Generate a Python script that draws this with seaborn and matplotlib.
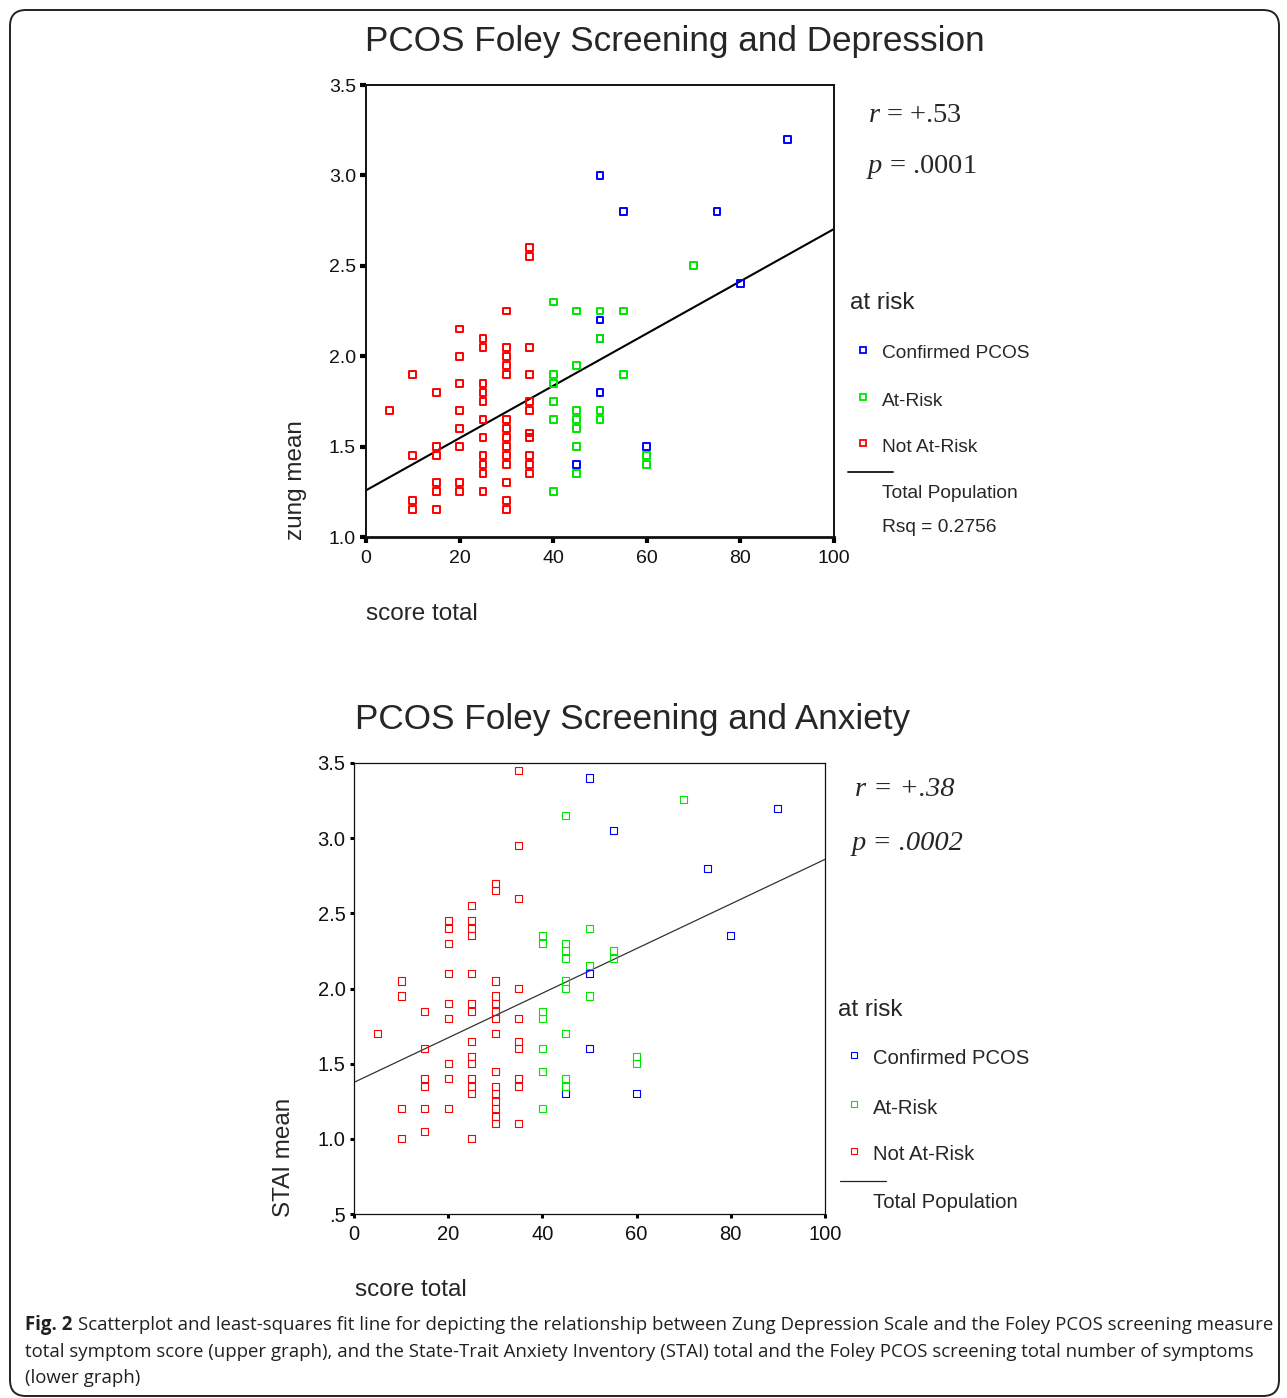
import matplotlib
matplotlib.use("Agg")
import matplotlib.pyplot as plt
import matplotlib.transforms as mtransforms
from matplotlib.lines import Line2D
from matplotlib.patches import FancyBboxPatch
import seaborn as sns
import pandas as pd

# groups shown in both graphs
groups = ["Confirmed PCOS", "At-Risk", "Not At-Risk"]
group_colors = {"Confirmed PCOS": "#0000ff", "At-Risk": "#00e600", "Not At-Risk": "#ff0000"}

# upper graph: score total vs zung mean
dep_pcos_x = [90, 50, 55, 75, 80, 50, 50, 50, 60, 45]
dep_pcos_y = [3.2, 3.0, 2.8, 2.8, 2.4, 2.2, 2.1, 1.8, 1.5, 1.4]
dep_risk_x = [70, 40, 45, 50, 55, 50, 45, 40, 55, 40, 40, 45, 50, 40, 45, 50, 45, 45, 60, 60, 45, 40]
dep_risk_y = [2.5, 2.3, 2.25, 2.25, 2.25, 2.1, 1.95, 1.9, 1.9, 1.85, 1.75, 1.7, 1.7, 1.65, 1.65, 1.65,
              1.6, 1.5, 1.45, 1.4, 1.35, 1.25]
dep_norisk_x = [35, 35, 30, 20, 25, 25, 30, 35, 20, 30, 30, 10, 30, 35, 20, 25, 15, 25, 25, 35, 5, 20, 35,
                25, 30, 20, 30, 35, 35, 25, 30, 15, 20, 30, 10, 15, 25, 30, 35, 25, 30, 35, 25, 35, 15, 20,
                30, 15, 20, 25, 10, 30, 10, 15, 30]
dep_norisk_y = [2.6, 2.55, 2.25, 2.15, 2.1, 2.05, 2.05, 2.05, 2.0, 2.0, 1.95, 1.9, 1.9, 1.9, 1.85, 1.85,
                1.8, 1.8, 1.75, 1.75, 1.7, 1.7, 1.7, 1.65, 1.65, 1.6, 1.6, 1.575, 1.55, 1.55, 1.55, 1.5,
                1.5, 1.5, 1.45, 1.45, 1.45, 1.45, 1.45, 1.4, 1.4, 1.4, 1.35, 1.35, 1.3, 1.3, 1.3, 1.25,
                1.25, 1.25, 1.2, 1.2, 1.15, 1.15, 1.15]

# lower graph: score total vs STAI mean
anx_pcos_x = [50, 90, 55, 75, 80, 50, 50, 45, 60]
anx_pcos_y = [3.4, 3.2, 3.05, 2.8, 2.35, 2.1, 1.6, 1.3, 1.3]
anx_risk_x = [70, 45, 50, 40, 40, 45, 45, 45, 55, 55, 50, 45, 45, 50, 40, 40, 45, 40, 60, 60, 40, 45, 45, 40]
anx_risk_y = [3.26, 3.15, 2.4, 2.35, 2.3, 2.3, 2.25, 2.2, 2.25, 2.2, 2.15, 2.05, 2.0, 1.95, 1.85, 1.8,
              1.7, 1.6, 1.55, 1.5, 1.45, 1.4, 1.35, 1.2]
anx_norisk_x = [35, 35, 30, 30, 35, 25, 20, 20, 25, 25, 25, 20, 20, 25, 10, 30, 35, 10, 30, 20, 25, 30,
                15, 25, 30, 20, 30, 35, 5, 30, 25, 35, 15, 35, 25, 20, 25, 30, 15, 15, 20, 25, 25, 25,
                35, 35, 30, 30, 30, 30, 30, 30, 10, 15, 20, 35, 15, 10, 25]
anx_norisk_y = [3.45, 2.95, 2.7, 2.65, 2.6, 2.55, 2.45, 2.4, 2.45, 2.4, 2.35, 2.3, 2.1, 2.1, 2.05, 2.05,
                2.0, 1.95, 1.95, 1.9, 1.9, 1.9, 1.85, 1.85, 1.85, 1.8, 1.8, 1.8, 1.7, 1.7, 1.65, 1.65,
                1.6, 1.6, 1.55, 1.5, 1.5, 1.45, 1.4, 1.35, 1.4, 1.4, 1.35, 1.3, 1.4, 1.35, 1.35, 1.3,
                1.25, 1.2, 1.15, 1.1, 1.2, 1.2, 1.2, 1.1, 1.05, 1.0, 1.0]

dep_yticks = [1.0, 1.5, 2.0, 2.5, 3.0, 3.5]
dep_yticklabels = ["1.0", "1.5", "2.0", "2.5", "3.0", "3.5"]
anx_yticks = [0.5, 1.0, 1.5, 2.0, 2.5, 3.0, 3.5]
anx_yticklabels = [".5", "1.0", "1.5", "2.0", "2.5", "3.0", "3.5"]
xticks = [0, 20, 40, 60, 80, 100]


def make_df(px, py, rx, ry, nx, ny):
    parts = []
    for g, xs, ys in zip(groups, [px, rx, nx], [py, ry, ny]):
        parts.append(pd.DataFrame({"score": xs, "mean": ys, "group": g}))
    return pd.concat(parts, ignore_index=True)


dep = make_df(dep_pcos_x, dep_pcos_y, dep_risk_x, dep_risk_y, dep_norisk_x, dep_norisk_y)
anx = make_df(anx_pcos_x, anx_pcos_y, anx_risk_x, anx_risk_y, anx_norisk_x, anx_norisk_y)

sns.set_style("ticks")
plt.rcParams["font.family"] = ["Liberation Sans", "DejaVu Sans"]
plt.rcParams["mathtext.fontset"] = "custom"
plt.rcParams["mathtext.it"] = "Liberation Serif:italic"
plt.rcParams["mathtext.rm"] = "Liberation Serif"

W, H = 1287, 1398
fig = plt.figure(figsize=(W / 100, H / 100), dpi=100)


def fx(px):
    return px / W


def fy(py):
    return 1 - py / H


def panel(ax, df, ylim, yticks, yticklabels, s, mlw, line_kws, spine_lw, tlen, twid, tsize):
    for g in groups:
        sub = df[df["group"] == g]
        sns.scatterplot(data=sub, x="score", y="mean", marker="s", s=s, facecolor="none",
                        edgecolor=group_colors[g], linewidth=mlw, ax=ax, legend=False, zorder=3)
    ax.set_xlim(0, 100)
    ax.set_ylim(*ylim)
    sns.regplot(data=df, x="score", y="mean", scatter=False, ci=None, truncate=False,
                line_kws=line_kws, ax=ax)
    ax.set_xlim(0, 100)
    ax.set_ylim(*ylim)
    ax.set_xticks(xticks)
    ax.set_xticklabels([str(t) for t in xticks])
    ax.set_yticks(yticks)
    ax.set_yticklabels(yticklabels)
    ax.set_xlabel("")
    ax.set_ylabel("")
    for sp in ax.spines.values():
        sp.set_visible(True)
        sp.set_linewidth(spine_lw)
        sp.set_color("#111111")
    ax.tick_params(direction="out", length=tlen, width=twid, color="black",
                   labelsize=tsize, pad=3, labelcolor="#111111")
    ax.tick_params(axis="x", pad=5)


# upper graph
ax1 = fig.add_axes([fx(366), fy(537), fx(834) - fx(366), fy(85) - fy(537)])
panel(ax1, dep, (1.0, 3.5), dep_yticks, dep_yticklabels, 24, 1.4,
      dict(color="black", lw=1.5), 1.4, 4.3, 3.0, 14)
ax1.spines["bottom"].set_linewidth(2.0)

# lower graph
ax2 = fig.add_axes([fx(354), fy(1214), fx(825) - fx(354), fy(763) - fy(1214)])
panel(ax2, anx, (0.5, 3.5), anx_yticks, anx_yticklabels, 26, 0.8,
      dict(color="#333333", lw=0.9), 0.9, 3.0, 2.2, 14.5)

# titles, axis labels
fig.text(fx(675), fy(41), "PCOS Foley Screening and Depression", fontsize=25.3, ha="center", va="center")
fig.text(fx(633), fy(720), "PCOS Foley Screening and Anxiety", fontsize=25.3, ha="center", va="center")
fig.text(fx(296), fy(480), "zung mean", fontsize=17.5, rotation=90, ha="center", va="center")
fig.text(fx(284), fy(1157), "STAI mean", fontsize=17.5, rotation=90, ha="center", va="center")
fig.text(fx(366), fy(614), "score total", fontsize=17.5, ha="left", va="center")
fig.text(fx(355), fy(1290), "score total", fontsize=17.5, ha="left", va="center")

# correlation notes
fig.text(fx(868), fy(115), r"$r$ = +.53", fontsize=20.5, family="Liberation Serif", ha="left", va="center")
fig.text(fx(866), fy(167), r"$p$ = .0001", fontsize=20.5, family="Liberation Serif", ha="left", va="center")
fig.text(fx(855), fy(790), "r = +.38", fontsize=20.5, family="Liberation Serif", style="italic",
         ha="left", va="center")
fig.text(fx(852), fy(843), "p = .0002", fontsize=20.5, family="Liberation Serif", style="italic",
         ha="left", va="center")


def legend_block(title_xy, marker_x, text_x, rows_y, line_y, line_x, pop_y, rsq_y, msize, mlw, lw, fs):
    fig.text(fx(title_xy[0]), fy(title_xy[1]), "at risk", fontsize=17.5, ha="left", va="center")
    for g, ry in zip(groups, rows_y):
        fig.add_artist(Line2D([fx(marker_x)], [fy(ry - 4)], marker="s", ms=msize, mfc="none",
                              mec=group_colors[g], mew=mlw, transform=fig.transFigure))
        fig.text(fx(text_x), fy(ry), g, fontsize=fs, ha="left", va="center")
    fig.add_artist(Line2D([fx(line_x[0]), fx(line_x[1])], [fy(line_y), fy(line_y)], color="#222222",
                          lw=lw, transform=fig.transFigure))
    fig.text(fx(text_x), fy(pop_y), "Total Population", fontsize=fs, ha="left", va="center")
    if rsq_y is not None:
        fig.text(fx(text_x), fy(rsq_y), "Rsq = 0.2756", fontsize=fs, ha="left", va="center")


legend_block((850, 303), 863, 882, [354, 401, 447], 472, (848, 893), 494, 527, 4.2, 1.3, 1.4, 13.8)
legend_block((838, 1010), 854, 873, [1059, 1108, 1155], 1181, (840, 886), 1203, None, 4.4, 0.8, 0.9, 14.6)

# caption
cap_color = "#231f20"
cap_fs = 13.4
renderer = fig.canvas.get_renderer()
t_bold = fig.text(fx(25), fy(1325), "Fig. 2", fontsize=cap_fs, family="Open Sans", weight="bold",
                  color=cap_color, ha="left", va="center")
bb = t_bold.get_window_extent(renderer=renderer)
fig.text(bb.x1 / W + fx(6), fy(1325),
         "Scatterplot and least-squares fit line for depicting the relationship between Zung Depression "
         "Scale and the Foley PCOS screening measure",
         fontsize=cap_fs, family="Open Sans", color=cap_color, ha="left", va="center")
fig.text(fx(25), fy(1352),
         "total symptom score (upper graph), and the State-Trait Anxiety Inventory (STAI) total and the "
         "Foley PCOS screening total number of symptoms",
         fontsize=cap_fs, family="Open Sans", color=cap_color, ha="left", va="center")
fig.text(fx(25), fy(1378), "(lower graph)", fontsize=cap_fs, family="Open Sans", color=cap_color,
         ha="left", va="center")

# rounded frame around the figure
frame = FancyBboxPatch((10, 2), 1269, 1386, boxstyle="round,pad=0,rounding_size=16",
                       fill=False, ec="#222222", lw=1.4, transform=mtransforms.IdentityTransform())
fig.add_artist(frame)

fig.savefig("out.png", dpi=100)
